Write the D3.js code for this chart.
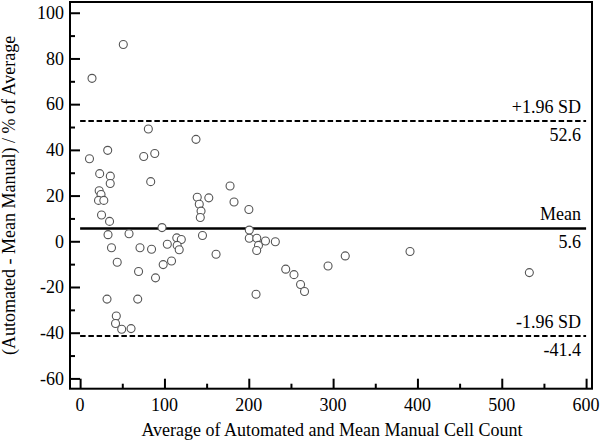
<!DOCTYPE html>
<html>
<head>
<meta charset="utf-8">
<script src="https://cdn.jsdelivr.net/npm/d3@7"></script>
<style>
  html, body { margin: 0; padding: 0; background: #fff; }
  svg { display: block; }
  text { font-family: "Liberation Serif", "Times New Roman", serif; fill: #000; }
</style>
</head>
<body>
<svg id="chart" width="600" height="441"></svg>
<script>
// ---- data ----
const xValues = [14.1, 51.2, 80.9, 32.7, 11.1, 75.4, 88.5, 137.4, 23.2, 35.8, 35.7, 83.7, 22.6, 24.8, 21.8, 28.1,
  25.4, 34.9, 33.1, 58.0, 97.1, 37.2, 71.0, 84.7, 103.4, 114.6, 120.0, 115.1, 117.5, 44.0, 69.3, 98.5,
  108.4, 89.4, 31.9, 68.3, 42.9, 42.0, 49.3, 60.4, 138.9, 152.6, 141.3, 143.4, 142.5, 145.1, 161.2, 177.8,
  182.5, 200.1, 200.6, 200.6, 209.5, 211.5, 209.4, 219.8, 231.5, 208.6, 243.8, 253.6, 261.4, 266.1, 294.0,
  314.4, 391.2, 532.7];
const yValues = [71.3, 86.1, 49.1, 39.8, 36.1, 37.1, 38.4, 44.6, 29.6, 28.5, 25.3, 26.1, 22.1, 20.5, 17.9, 17.9,
  11.5, 8.7, 2.9, 3.3, 6.0, -2.8, -2.8, -3.5, -1.3, 1.5, 0.8, -1.8, -3.7, -9.2, -13.2, -10.2,
  -8.6, -16.0, -25.3, -25.3, -32.7, -36.0, -38.5, -38.2, 19.3, 19.0, 16.2, 13.2, 10.4, 2.5, -5.7, 24.2,
  17.2, 13.9, 4.9, 1.3, 1.3, -1.8, -4.0, 0.1, -0.2, -23.2, -12.2, -14.6, -18.9, -22.0, -10.8,
  -6.4, -4.5, -13.7];
const refLabels = ["+1.96 SD", "Mean", "-1.96 SD"];
const refValues = [52.6, 5.6, -41.4];
const refStyles = ["dashed", "solid", "dashed"];
const xTicks = [0, 100, 200, 300, 400, 500, 600];
const xMinorTicks = [50, 150, 250, 350, 450, 550];
const yTicks = [-60, -40, -20, 0, 20, 40, 60, 80, 100];
const yMinorTicks = [-50, -30, -10, 10, 30, 50, 70, 90];
const xTitle = "Average of Automated and Mean Manual Cell Count";
const yTitle = "(Automated - Mean Manual) / % of Average";

(function () {
// ---- layout ----
const mLeft = 70, mRight = 592, mTop = 2, mBottom = 388.7;
const fs = 18;
const svg = d3.select("#chart");

const x = d3.scaleLinear().domain([-12, 607]).range([mLeft, mRight]);
const y = d3.scaleLinear().domain([-64.5, 104.7]).range([mBottom, mTop]);

// frame
svg.append("rect")
  .attr("x", mLeft).attr("y", mTop)
  .attr("width", mRight - mLeft).attr("height", mBottom - mTop)
  .attr("fill", "none").attr("stroke", "#000").attr("stroke-width", 2);

// y axis ticks (inside)
const yAxis = d3.axisRight(y).tickValues(yTicks).tickSize(10).tickFormat("");
const gy = svg.append("g").attr("transform", `translate(${mLeft},0)`).call(yAxis);
gy.select(".domain").remove();
gy.selectAll("line").attr("stroke", "#000").attr("stroke-width", 2);
const yAxisMinor = d3.axisRight(y).tickValues(yMinorTicks).tickSize(5).tickFormat("");
const gym = svg.append("g").attr("transform", `translate(${mLeft},0)`).call(yAxisMinor);
gym.select(".domain").remove();
gym.selectAll("line").attr("stroke", "#000").attr("stroke-width", 2);

// y tick labels
svg.append("g").selectAll("text").data(yTicks).join("text")
  .attr("x", mLeft - 6).attr("y", d => y(d)).attr("dy", "0.35em")
  .attr("text-anchor", "end").attr("font-size", fs)
  .text(d => d);

// x axis ticks (inside)
const xAxis = d3.axisTop(x).tickValues(xTicks).tickSize(10).tickFormat("");
const gx = svg.append("g").attr("transform", `translate(0,${mBottom})`).call(xAxis);
gx.select(".domain").remove();
gx.selectAll("line").attr("stroke", "#000").attr("stroke-width", 2);
const xAxisMinor = d3.axisTop(x).tickValues(xMinorTicks).tickSize(5).tickFormat("");
const gxm = svg.append("g").attr("transform", `translate(0,${mBottom})`).call(xAxisMinor);
gxm.select(".domain").remove();
gxm.selectAll("line").attr("stroke", "#000").attr("stroke-width", 2);

// x tick labels
svg.append("g").selectAll("text").data(xTicks).join("text")
  .attr("x", d => x(d)).attr("y", 410.5)
  .attr("text-anchor", "middle").attr("font-size", fs)
  .text(d => d);

// axis titles
svg.append("text")
  .attr("x", (mLeft + mRight) / 2 + 1).attr("y", 435.5)
  .attr("text-anchor", "middle").attr("font-size", fs)
  .text(xTitle);
svg.append("text")
  .attr("transform", `translate(15,${(mTop + mBottom) / 2}) rotate(-90)`)
  .attr("text-anchor", "middle").attr("font-size", fs)
  .text(yTitle);

// reference lines
const refs = refValues.map((v, i) => ({ v, label: refLabels[i], style: refStyles[i] }));
svg.append("g").selectAll("line").data(refs).join("line")
  .attr("x1", x(0)).attr("x2", x(600))
  .attr("y1", d => y(d.v)).attr("y2", d => y(d.v))
  .attr("stroke", "#000")
  .attr("stroke-width", d => d.style === "solid" ? 2.5 : 2)
  .attr("stroke-dasharray", d => d.style === "dashed" ? "5.5,2.75" : null);

svg.append("g").selectAll("text").data(refs).join("text")
  .attr("x", 581).attr("y", d => y(d.v) - 8)
  .attr("text-anchor", "end").attr("font-size", fs)
  .text(d => d.label);
svg.append("g").selectAll("text").data(refs).join("text")
  .attr("x", 581).attr("y", d => y(d.v) + 20)
  .attr("text-anchor", "end").attr("font-size", fs)
  .text(d => d.v.toFixed(1));

// points
const pts = xValues.map((v, i) => ({ x: v, y: yValues[i] }));
svg.append("g").selectAll("circle").data(pts).join("circle")
  .attr("cx", d => x(d.x)).attr("cy", d => y(d.y)).attr("r", 4)
  .attr("fill", "#fff").attr("stroke", "#555").attr("stroke-width", 1.1);
})();
</script>
</body>
</html>
